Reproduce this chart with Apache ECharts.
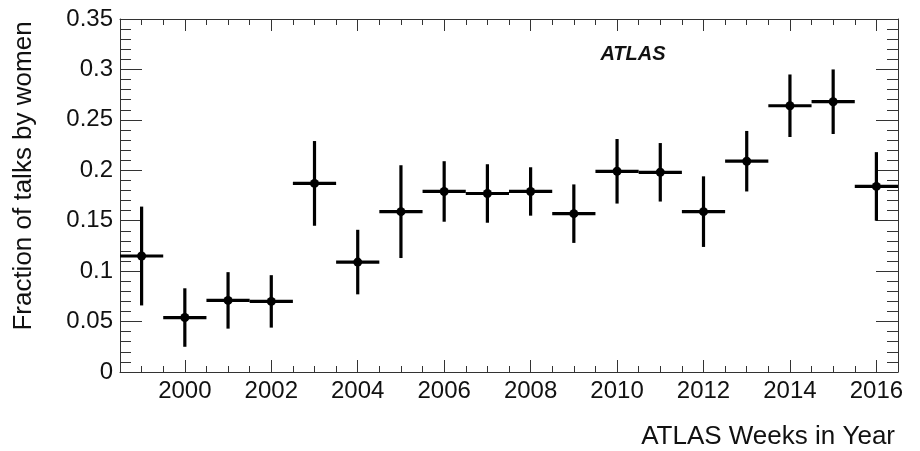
<!DOCTYPE html>
<html>
<head>
<meta charset="utf-8">
<script src="https://cdn.jsdelivr.net/npm/echarts@6/dist/echarts.min.js"></script>
<style>
  html, body { margin: 0; padding: 0; background: #fff; }
  #chart { width: 920px; height: 451px; }
</style>
</head>
<body>
<div id="chart"></div>
<script>
  // values
  var years = [1999, 2000, 2001, 2002, 2003, 2004, 2005, 2006, 2007, 2008, 2009, 2010, 2011, 2012, 2013, 2014, 2015, 2016];
  var fractions = [0.115, 0.054, 0.071, 0.070, 0.187, 0.109, 0.159, 0.179, 0.177, 0.179, 0.157, 0.199, 0.198, 0.159, 0.209, 0.264, 0.268, 0.184];
  var errors = [0.049, 0.029, 0.028, 0.026, 0.042, 0.032, 0.046, 0.030, 0.029, 0.024, 0.029, 0.032, 0.029, 0.035, 0.030, 0.031, 0.032, 0.034];
  var yearLabels = [2000, 2002, 2004, 2006, 2008, 2010, 2012, 2014, 2016];

  var xMin = 1998.5, xMax = 2016.5;
  var minorYears = [];
  for (var t = xMin; t <= xMax + 1e-9; t += 0.5) minorYears.push(t);

  var ink = '#111';
  var frame = { show: true, lineStyle: { color: '#333', width: 1 } };
  var font = 'Liberation Sans, Arial, Helvetica, sans-serif';

  var points = years.map(function (y, i) { return [y, fractions[i], errors[i]]; });

  function xAxisDef(position, major) {
    return {
      type: 'value', min: xMin, max: xMax, position: position,
      axisLine: major ? frame : { show: false },
      axisTick: {
        inside: true, length: major ? 12 : 6,
        customValues: major ? yearLabels : minorYears,
        lineStyle: { color: '#333', width: 1 }
      },
      axisLabel: major && position === 'bottom'
        ? {
            customValues: yearLabels, fontSize: 24, fontFamily: font, color: ink, margin: 7,
            formatter: function (v) { return String(v); }
          }
        : { show: false },
      splitLine: { show: false }
    };
  }

  function yAxisDef(position) {
    return {
      type: 'value', min: 0, max: 0.35, interval: 0.05, position: position,
      axisLine: frame,
      axisTick: { inside: true, length: 22, lineStyle: { color: '#333', width: 1 } },
      minorTick: { show: true, splitNumber: 5, length: 11, lineStyle: { color: '#333', width: 1 } },
      axisLabel: position === 'left'
        ? { fontSize: 24, fontFamily: font, color: ink, margin: 7 }
        : { show: false },
      splitLine: { show: false }
    };
  }

  var chart = echarts.init(document.getElementById('chart'));
  chart.setOption({
    animation: false,
    grid: { left: 120, right: 22, top: 19, bottom: 79 },
    xAxis: [
      xAxisDef('bottom', true),
      xAxisDef('bottom', false),
      xAxisDef('top', true),
      xAxisDef('top', false)
    ],
    yAxis: [yAxisDef('left'), yAxisDef('right')],
    graphic: [
      {
        type: 'text', x: 24, y: 176, rotation: Math.PI / 2,
        style: {
          text: 'Fraction of talks by women', font: '26px ' + font,
          fill: ink, textAlign: 'center', textVerticalAlign: 'middle'
        }
      },
      {
        type: 'text', x: 895, y: 437,
        style: {
          text: 'ATLAS Weeks in Year', font: '26px ' + font,
          fill: ink, textAlign: 'right', textVerticalAlign: 'middle'
        }
      },
      {
        type: 'text', x: 633, y: 54,
        style: {
          text: 'ATLAS', font: 'italic bold 20px ' + font,
          fill: ink, textAlign: 'center', textVerticalAlign: 'middle'
        }
      }
    ],
    series: [{
      type: 'custom',
      xAxisIndex: 0,
      yAxisIndex: 0,
      data: points,
      renderItem: function (params, api) {
        var x = api.value(0), y = api.value(1), e = api.value(2);
        var c = api.coord([x, y]);
        var lo = api.coord([x, y - e]), hi = api.coord([x, y + e]);
        var l = api.coord([x - 0.5, y]), r = api.coord([x + 0.5, y]);
        var st = { stroke: '#000', lineWidth: 3.2 };
        return {
          type: 'group',
          children: [
            { type: 'line', shape: { x1: l[0], y1: l[1], x2: r[0], y2: r[1] }, style: st },
            { type: 'line', shape: { x1: lo[0], y1: lo[1], x2: hi[0], y2: hi[1] }, style: st },
            { type: 'circle', shape: { cx: c[0], cy: c[1], r: 4.5 }, style: { fill: '#000' } }
          ]
        };
      }
    }]
  });
</script>
</body>
</html>
